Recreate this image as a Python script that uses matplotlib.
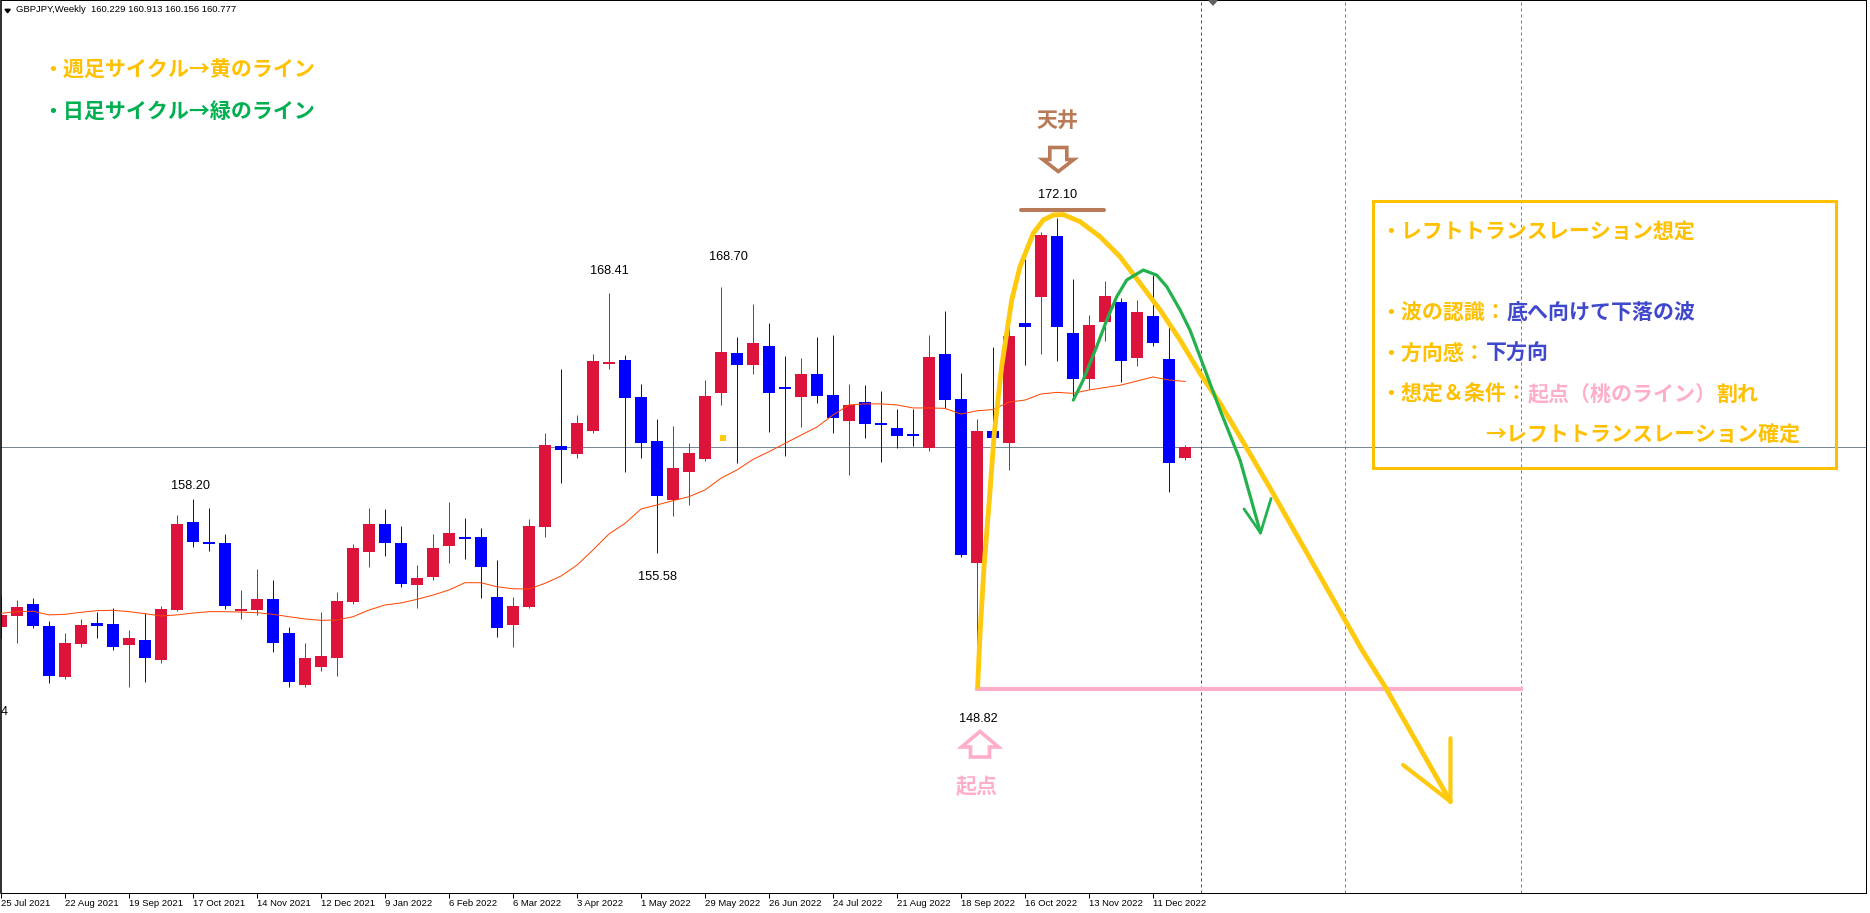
import matplotlib
matplotlib.use("Agg")
import matplotlib.pyplot as plt
import matplotlib.transforms as mtransforms
from matplotlib import font_manager
from matplotlib.patches import Polygon, Rectangle
import numpy as np
import pandas as pd

W, H, DPI = 1870, 913, 100

# weekly GBPJPY, first bar = week of 25 Jul 2021
START = "2021-07-25"
OPEN = [151.91, 152.46, 153.03, 151.95, 149.44, 151.07, 152.10, 152.05, 151.02, 151.26,
        150.28, 152.74, 157.08, 156.11, 156.05, 152.69, 152.74, 153.28, 151.60, 149.03,
        149.92, 150.37, 153.13, 155.60, 156.99, 156.05, 153.97, 154.37, 155.90, 156.33,
        156.34, 153.38, 152.00, 152.89, 156.86, 160.83, 160.46, 161.60, 164.91, 165.09,
        163.26, 161.09, 158.17, 159.56, 160.20, 163.47, 165.43, 164.84, 165.78, 163.76,
        163.28, 164.40, 163.36, 162.09, 163.01, 161.94, 161.73, 161.40, 160.73, 165.39,
        163.16, 155.05, 161.58, 161.00, 166.92, 168.20, 171.21, 166.42, 164.16, 166.98,
        167.95, 165.20, 167.26, 165.14, 160.229]
HIGH = [153.43, 153.23, 153.33, 152.19, 151.60, 152.29, 152.64, 152.84, 151.77, 152.60,
        152.95, 157.43, 158.20, 157.77, 156.49, 153.73, 154.76, 154.22, 151.90, 151.12,
        152.64, 153.63, 156.00, 157.77, 157.73, 156.89, 154.96, 156.49, 158.07, 157.28,
        156.79, 155.21, 153.38, 157.23, 161.48, 164.66, 162.37, 165.39, 168.41, 165.33,
        163.90, 162.17, 161.84, 160.99, 164.10, 168.70, 166.22, 167.85, 166.92, 165.29,
        165.19, 166.22, 166.32, 163.90, 163.85, 163.56, 162.67, 162.67, 166.32, 167.51,
        164.45, 162.17, 165.73, 166.87, 170.07, 171.41, 172.10, 169.09, 167.30, 168.99,
        168.15, 168.05, 169.29, 166.98, 160.913]
LOW = [151.37, 151.12, 151.85, 149.15, 149.32, 150.93, 151.37, 150.78, 148.92, 149.19,
       150.14, 152.67, 155.86, 155.67, 152.77, 152.29, 152.51, 150.66, 148.93, 148.93,
       149.73, 149.48, 153.03, 154.86, 155.41, 153.87, 152.84, 154.22, 155.06, 155.27,
       153.33, 151.40, 150.91, 152.84, 156.36, 159.03, 160.26, 161.50, 164.63, 159.57,
       160.26, 155.58, 157.39, 157.93, 160.10, 162.87, 159.99, 164.40, 161.53, 160.35,
       161.79, 162.98, 161.50, 159.42, 161.25, 160.07, 160.76, 160.86, 160.61, 162.70,
       155.37, 148.82, 160.89, 159.67, 164.86, 165.40, 165.05, 163.11, 163.67, 166.04,
       164.00, 164.81, 165.78, 158.58, 160.156]
CLOSE = [152.49, 152.89, 151.96, 149.49, 151.11, 152.00, 151.96, 150.93, 151.36, 150.38,
         152.79, 156.99, 156.11, 156.01, 152.95, 152.80, 153.28, 151.12, 149.19, 150.37,
         150.47, 153.18, 155.80, 156.99, 156.05, 154.02, 154.32, 155.80, 156.54, 156.28,
         154.86, 151.85, 152.94, 156.89, 160.89, 160.66, 161.98, 165.04, 164.97, 163.23,
         161.00, 158.39, 159.76, 160.50, 163.31, 165.48, 164.86, 165.93, 163.47, 163.69,
         164.40, 163.32, 162.24, 162.87, 161.94, 161.89, 161.35, 161.35, 165.24, 163.11,
         155.46, 161.58, 161.25, 166.27, 166.73, 171.26, 166.73, 164.16, 166.82, 168.25,
         165.05, 167.46, 165.94, 160.02, 160.777]
# moving average line as drawn on the chart
MA = [152.58, 152.66, 152.68, 152.50, 152.53, 152.63, 152.71, 152.73, 152.66, 152.56,
      152.45, 152.50, 152.59, 152.66, 152.66, 152.64, 152.61, 152.53, 152.41, 152.30,
      152.23, 152.25, 152.41, 152.74, 152.99, 153.09, 153.27, 153.48, 153.73, 154.09,
      154.09, 153.89, 153.79, 153.78, 154.06, 154.42, 154.96, 155.71, 156.50, 157.02,
      157.73, 157.93, 158.14, 158.34, 158.67, 159.25, 159.66, 160.18, 160.56, 160.97,
      161.38, 161.78, 162.37, 162.87, 162.92, 162.92, 162.87, 162.72, 162.72, 162.70,
      162.42, 162.58, 162.64, 163.01, 163.11, 163.41, 163.49, 163.44, 163.61, 163.73,
      163.85, 164.05, 164.25, 164.10, 164.03]

# labelled highs / lows: (bar, "high"/"low", dx px, dy px)
PRICE_LABELS = [(12, "high", -2, 10.7), (38, "high", 0, 18.7), (45, "high", 7, 27.0),
                (66, "high", 1, 19.7), (41, "low", 0.5, -27.3), (61, "low", 1, -32.4)]

# drawn objects (bar index, price)
YELLOW_X = [61.04, 61.19, 61.44, 61.77, 62.08, 62.54, 63.17, 63.69, 64.52, 65.14, 65.77,
            66.39, 67.44, 68.69, 69.94, 71.19, 72.44, 73.69, 74.94, 76.19, 77.44, 79.31,
            85.06, 86.50, 90.59]
YELLOW_Y = [148.95, 151.59, 154.88, 158.17, 161.47, 164.76, 168.05, 169.70, 171.35, 172.00,
            172.25, 172.27, 171.92, 171.18, 170.19, 168.88, 167.56, 166.08, 164.43, 162.95,
            161.30, 158.77, 150.77, 148.96, 143.28]
YELLOW_HEAD_X = [90.59, 90.59, 87.63]
YELLOW_HEAD_Y = [146.41, 143.28, 145.09]
GREEN_X = [67.02, 67.64, 68.48, 69.11, 69.73, 70.36, 71.39, 72.23, 72.86, 73.69, 74.31,
           74.94, 76.19, 77.44, 78.72]
GREEN_Y = [163.11, 164.10, 165.75, 167.06, 168.21, 169.04, 169.53, 169.28, 168.71, 167.56,
           166.57, 165.25, 162.62, 160.15, 156.55]
GREEN_HEAD_X = [77.69, 78.72, 79.38]
GREEN_HEAD_Y = [157.73, 156.55, 158.25]
TOP_LINE_X = [63.75, 68.94]
TOP_LINE_Y = 172.50
BASE_LINE_X = [61, 95]
MARKER_X, MARKER_Y = 45.1, 161.24
VLINES_RED = [75]
VLINES_BLUE = [84, 95]

RED, BLUE = "#DC143C", "#0000FF"
YEL_T, YEL_L = "#FFC000", "#FFC90E"
GRN_T, GRN_L = "#00B050", "#22B14C"
INDIGO, PINK, BROWN = "#3F48CC", "#FFAEC9", "#B97A57"

plt.rcParams["font.family"] = ["Noto Sans CJK JP", "DejaVu Sans"]
NAMES = {f.name for f in font_manager.fontManager.ttflist}
NARROW = "Liberation Sans Narrow" in NAMES
NUM_FONT = "Liberation Sans Narrow" if NARROW else "Liberation Sans"
NUM_SIZE, AX_SIZE, HEAD_SIZE = (10.8, 8.0, 8.2) if NARROW else (9.2, 6.8, 6.8)
JP_SIZE = 15.1
CH = 21.0  # full-width char advance, px

o, h, l, c = (np.array(v, dtype=float) for v in (OPEN, HIGH, LOW, CLOSE))
x = np.arange(len(o))
dates = pd.date_range(START, periods=len(o), freq="7D")

fig = plt.figure(figsize=(W / DPI, H / DPI), dpi=DPI, facecolor="white")
ax = fig.add_axes([0.5 / W, (H - 893.3) / H, (1866 - 0.5) / W, 893.3 / H])
ax.set_xlim(-0.03125, 116.5625)
ax.set_ylim(138.752, 182.866)

# pixel transform (origin top-left) for layout objects
PIX = mtransforms.Affine2D().scale(1, -1).translate(0, H)
px = 72 / DPI

# price line and separators
ax.axhline(c[-1], color="#778899", lw=1.0 * px, zorder=1)
for v in VLINES_RED:
    ax.axvline(v, color="#FF0000", lw=1.0 * px, ls=(0, (3, 3)), zorder=1)
for v in VLINES_BLUE:
    ax.axvline(v, color="#1E90FF", lw=1.0 * px, ls=(0, (3, 3)), zorder=1)

# candles
col = np.where(c >= o, RED, BLUE)
ax.vlines(x, l, h, colors=col, lw=1.0 * px, zorder=2)
body = np.abs(c - o)
tiny = body < 0.09
bottom = np.where(tiny, (o + c) / 2 - 0.045, np.minimum(o, c))
ax.bar(x, np.where(tiny, 0.09, body), bottom=bottom, width=0.69, color=col, lw=0, zorder=2)
ax.plot(x, MA, color="#FF4500", lw=1.0 * px, zorder=3)
ax.plot(MARKER_X, MARKER_Y, marker="s", ms=6 * px, mew=0, color=YEL_L, zorder=3)

# high / low labels
for i, kind, dx, dy in PRICE_LABELS:
    val = h[i] if kind == "high" else l[i]
    ax.annotate(f"{val:.2f}", (i, val), xytext=(dx, dy), textcoords="offset pixels",
                ha="center", va="baseline", fontsize=NUM_SIZE, family=NUM_FONT, color="black")
ax.text(1.0, 715, "4", transform=PIX, ha="left", va="baseline",
        fontsize=NUM_SIZE, family=NUM_FONT)

# hand-drawn objects
ax.plot(YELLOW_X, YELLOW_Y, color=YEL_L, lw=3.5, solid_joinstyle="round",
        solid_capstyle="round", zorder=6)
ax.plot(YELLOW_HEAD_X, YELLOW_HEAD_Y, color=YEL_L, lw=3.0, solid_joinstyle="round",
        solid_capstyle="round", zorder=6)
ax.plot(GREEN_X, GREEN_Y, color=GRN_L, lw=2.3, solid_joinstyle="round",
        solid_capstyle="round", zorder=6)
ax.plot(GREEN_HEAD_X, GREEN_HEAD_Y, color=GRN_L, lw=2.0, solid_joinstyle="round",
        solid_capstyle="round", zorder=6)
ax.plot(TOP_LINE_X, [TOP_LINE_Y] * 2, color=BROWN, lw=2.9, solid_capstyle="round", zorder=5)
ax.plot(BASE_LINE_X, [l[61]] * 2, color=PINK, lw=2.9, zorder=5)


def hollow_arrow(cx, cy, pts, color):
    verts = [(cx + dx, cy + dy) for dx, dy in pts]
    ax.add_patch(Polygon(verts, closed=True, facecolor="white", edgecolor=color,
                         lw=2.6, joinstyle="miter", transform=PIX, clip_on=False, zorder=7))


hollow_arrow(1058.3, 160, [(-8.5, -12.5), (8.5, -12.5), (8.5, -0.5), (15.5, -0.5), (0, 11.5),
                           (-15.5, -0.5), (-8.5, -0.5)], BROWN)
hollow_arrow(980, 744, [(0, -12.5), (18.5, 3), (9.5, 3), (9.5, 13), (-9.5, 13), (-9.5, 3),
                        (-18.5, 3)], PINK)

jp = dict(transform=PIX, va="baseline", ha="left", fontsize=JP_SIZE, fontweight="bold",
          family=["Noto Sans CJK JP", "DejaVu Sans"])
ax.text(1057.5, 126.7, "天井", color=BROWN, **{**jp, "ha": "center"})
ax.text(977, 793, "起点", color=PINK, **{**jp, "ha": "center"})
ax.text(42, 77, "・週足サイクル→黄のライン", color=YEL_T, **jp)
ax.text(42, 117.5, "・日足サイクル→緑のライン", color=GRN_T, **jp)

# note box
ax.add_patch(Rectangle((1372.7, 201), 463.3, 267.3, fill=False, edgecolor=YEL_T, lw=2.2,
                       transform=PIX, clip_on=False, zorder=7))
L0 = 1380.5
box_lines = [
    (237.5, [("・レフトトランスレーション想定", YEL_T)]),
    (318.5, [("・波の認識：", YEL_T), ("底へ向けて下落の波", INDIGO)]),
    (359.5, [("・方向感：", YEL_T), ("下方向", INDIGO)]),
    (400.5, [("・想定＆条件：", YEL_T), ("起点（桃のライン）", PINK), ("割れ", YEL_T)]),
    (441.5, [("→レフトトランスレーション確定", YEL_T)]),
]
for base, parts in box_lines:
    xx = L0 + (5 * CH if parts[0][0].startswith("→") else 0)
    for txt, colr in parts:
        ax.text(xx, base, txt, color=colr, **jp)
        xx += len(txt) * CH

# header
ax.add_patch(Polygon([(5, 9.3), (10.3, 9.3), (7.6, 12.7)], closed=True, color="black",
                     transform=PIX, clip_on=False))
ax.text(16.5, 12.3, "GBPJPY,Weekly  160.229 160.913 160.156 160.777", transform=PIX,
        va="baseline", ha="left", fontsize=HEAD_SIZE, family=NUM_FONT, color="black")
ax.add_patch(Polygon([(1209, 0.5), (1217, 0.5), (1213, 5)], closed=True, color="#606060",
                     transform=PIX, clip_on=False, zorder=8))

# axes
ticks = x[::4]
labels = [f"{d.day} {d.strftime('%b %Y')}" for d in dates[::4]]
ax.set_xticks(ticks, labels)
for t in ax.get_xticklabels():
    t.set_ha("left")
    t.set_family(NUM_FONT)
ax.tick_params(axis="x", direction="out", length=5 * px, width=1.0 * px, pad=0.5,
               labelsize=AX_SIZE, colors="black")
ax.set_yticks([])
for s in ax.spines.values():
    s.set_color("black")
    s.set_linewidth(1.0 * px)
ax.spines["left"].set_linewidth(1.6 * px)

fig.savefig("out.png", dpi=DPI, facecolor="white")
